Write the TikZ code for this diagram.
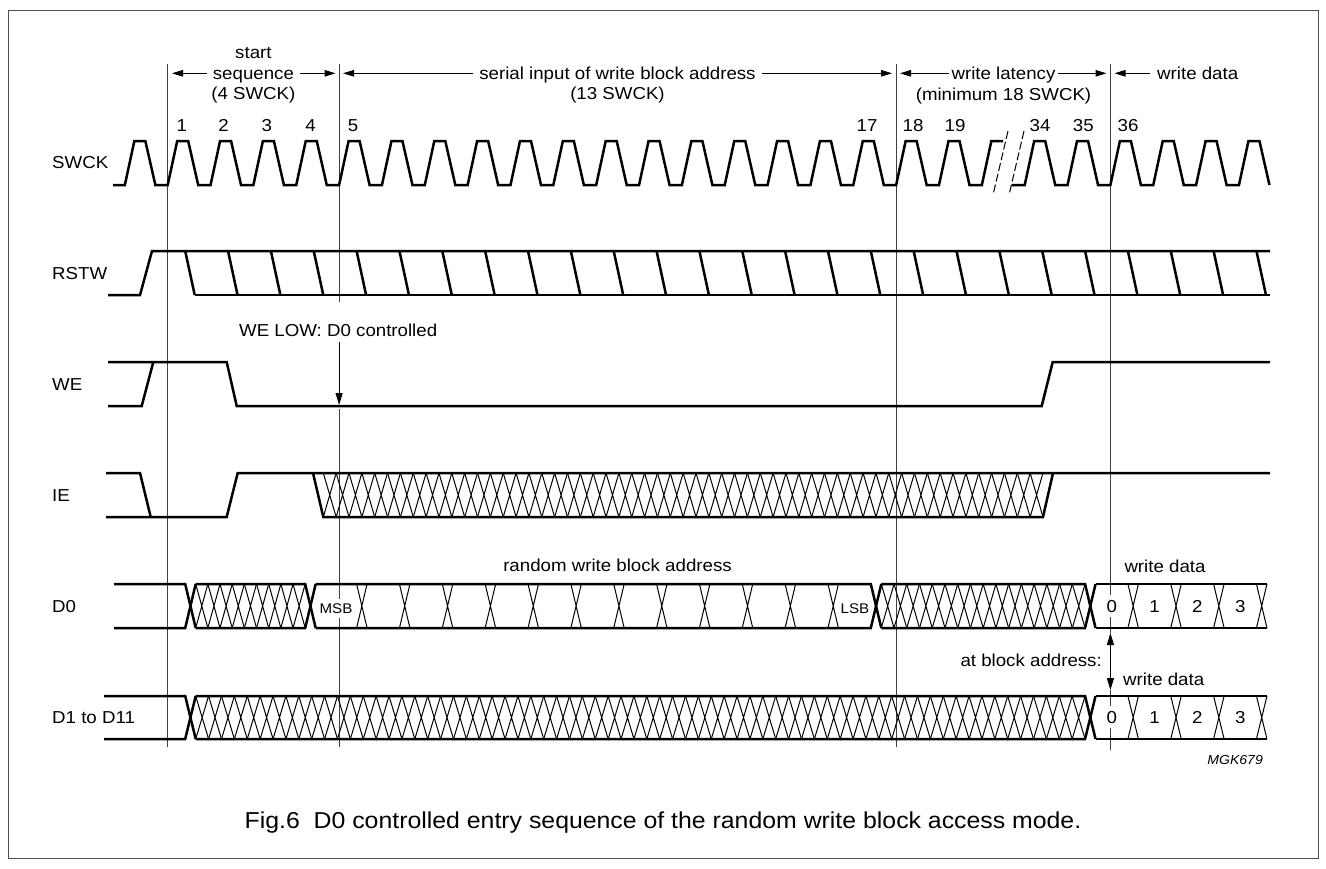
\documentclass[tikz,border=0pt]{standalone}
\usepackage{fontspec}
\setmainfont{Liberation Sans}[FakeStretch=1.08]
\usetikzlibrary{arrows.meta}
\newcommand\hatchX[4]{%
  \pgfmathsetmacro\hzA{#1}\pgfmathsetmacro\hzB{#2}%
  \pgfmathtruncatemacro\hzN{max(1,round((\hzB-\hzA)/12.85))}%
  \pgfmathsetmacro\hzW{(\hzB-\hzA)/\hzN}%
  \foreach \i in {1,...,\hzN}{\draw[hat] ({\hzA+(\i-1)*\hzW},#3) -- ({\hzA+\i*\hzW},#4) ({\hzA+(\i-1)*\hzW},#4) -- ({\hzA+\i*\hzW},#3);}}
\newcommand\busLine[4]{%
  \foreach \j [evaluate=\j as \tA using {185.2+42.85*\j}, evaluate=\j as \tB using {195.7+42.85*\j}, remember=\tB as \tP (initially #1)] in {#4} {%
    \draw[sig] (\tP,#2) -- (\tA,#2) -- (\tB,#3);
    \draw[sig] (\tP,#3) -- (\tA,#3) -- (\tB,#2);
  }}
\newcommand\thinX[3]{%
  \foreach \j in {#3} {\draw[hat] ({185.2+42.85*\j},#1) -- ({195.7+42.85*\j},#2) ({185.2+42.85*\j},#2) -- ({195.7+42.85*\j},#1);}}
\begin{document}
\begin{tikzpicture}[x=1pt,y=-1pt,
  declare function={ck(\q)=167.7+42.85*\q;},
  sig/.style={line width=2.5pt,line join=miter},
  hat/.style={line width=1pt},
  vline/.style={line width=1pt,black!75},
  tip/.tip={Triangle[length=11pt,width=6.5pt]},
  dim/.style={line width=1pt,tip-tip},
  txt/.style={font=\fontsize{17.3}{20}\selectfont,inner sep=0pt,anchor=base},
  sm/.style={font=\fontsize{14}{16}\selectfont,inner sep=0pt,anchor=base},
]
\useasboundingbox (0,0) rectangle (1326,868);
\draw[line width=1pt,black!70] (8,10) rectangle (1318,858);

% marker lines
\draw[vline] (167.7,64) -- (167.7,747);
\draw[vline] (339.1,64) -- (339.1,302);
\draw[vline] (339.1,409) -- (339.1,747);
\draw[vline] (896.15,64) -- (896.15,747);
\draw[vline] (1110.4,64) -- (1110.4,633);
\draw[vline] (1110.4,690) -- (1110.4,750);

% signal names
\node[txt,anchor=base west] (nSWCK) at (52,168) {SWCK};
\node[txt,anchor=base west] (nRSTW) at (52,279) {RSTW};
\node[txt,anchor=base west] (nWE) at (52,390) {WE};
\node[txt,anchor=base west] (nIE) at (52,501) {IE};
\node[txt,anchor=base west] (nD0) at (52,612) {D0};
\node[txt,anchor=base west] (nD1) at (52,723) {D1 to D11};

% top dimension arrows
\draw[dim] (172,73.3) -- (335.5,73.3);
\node[txt,fill=white,inner xsep=6pt,inner ysep=3pt] (tseq) at (253.4,79.3) {sequence};
\node[txt] (tstart) at (253.4,58.3) {start};
\node[txt] (t4) at (253.4,99) {(4 SWCK)};
\draw[dim] (343,73.3) -- (892,73.3);
\node[txt,fill=white,inner xsep=6pt,inner ysep=3pt] (tser) at (617.5,79.3) {serial input of write block address};
\node[txt] (t13) at (617.5,99) {(13 SWCK)};
\draw[dim] (900,73.3) -- (1106.5,73.3);
\node[txt,fill=white,inner xsep=3pt,inner ysep=3pt] (tlat) at (1003.5,79.3) {write latency};
\node[txt] (tmin) at (1003.5,100) {(minimum 18 SWCK)};
\coordinate (wdA) at (1150,73.3);
\coordinate (wdB) at (1114.5,73.3);
\draw[line width=1pt,-tip] (wdA) -- (wdB);
\node[txt,anchor=base west] (twd) at (1157,79.3) {write data};

% clock numbers
\foreach \x/\t in {181.7/1,223.5/2,266.7/3,310.5/4,353/5,867/17,913/18,955/19,1040/34,1083.3/35,1128/36}
  \node[txt] (num\t) at (\x,131.7) {\t};

% SWCK
\draw[sig] (113,185) \foreach \j in {-1,...,18}{ -- ({ck(\j)},185) -- ({ck(\j)+9.5},141) -- ({ck(\j)+20.5},141) -- ({ck(\j)+30.5},185)} -- ({ck(19)},185) -- ({ck(19)+9.5},141) -- (1003,141);
\draw[sig] (1012,185) \foreach \j in {20,...,25}{ -- ({ck(\j)},185) -- ({ck(\j)+9.5},141) -- ({ck(\j)+20.5},141) -- ({ck(\j)+30.5},185)};
\draw[line width=1pt,dash pattern=on 8pt off 3pt] (1008,131) -- (993,195) (1024,131) -- (1009,195);

% RSTW
\draw[sig] (108,295) -- (140,295) -- (152,251) -- (1270,251);
\draw[sig] ({ck(0)+27},295) -- (1270,295);
\foreach \j in {0,...,25} \draw[sig] ({ck(\j)+17.5},251) -- ({ck(\j)+27},295);

% WE
\draw[sig] (108,362) -- (226.7,362) -- (236.7,406) -- (1041.7,406) -- (1052.7,362) -- (1270,362);
\draw[sig] (108,406) -- (141.7,406) -- (153.3,362);
\node[txt,anchor=base west] (weLow) at (239,336) {WE LOW: D0 controlled};
\draw[line width=1pt,-{Triangle[length=12pt,width=7pt]}] (339.1,342) -- (339.1,405);

% IE
\draw[sig] (106,473) -- (140,473) -- (150.7,517);
\draw[sig] (106,517) -- (226.7,517) -- (237.7,473) -- (1270,473);
\draw[sig] (313,473) -- (323.3,517) -- (1043,517) -- (1053,473);
\hatchX{323.3}{1043}{473}{517}

% D0
\busLine{114}{584}{628}{0,2.8,16,21}
\draw[sig] (1095.55,584) -- (1266.95,584) (1095.55,628) -- (1266.95,628);
\thinX{584}{628}{4,5,6,7,8,9,10,11,12,13,14,15,22,23,24,25}
\hatchX{195.7}{305.18}{584}{628}
\hatchX{881.3}{1085.05}{584}{628}
\node[sm,fill=white,inner xsep=1pt,inner ysep=5pt] (msb) at (336,613.3) {MSB};
\node[sm] (lsb) at (855,613.3) {LSB};
\node[txt] (rwba) at (617.5,571) {random write block address};
\node[txt] (wd1) at (1165,572.5) {write data};
\foreach \x/\t in {1111.7/0,1154.6/1,1197.4/2,1240.3/3}
  \node[txt,fill=white,inner xsep=1pt,inner ysep=5pt] (dA\t) at (\x,612) {\t};

% D1 to D11
\busLine{104}{696}{739}{0,21}
\draw[sig] (1095.55,696) -- (1266.95,696) (1095.55,739) -- (1266.95,739);
\thinX{696}{739}{22,23,24,25}
\hatchX{195.7}{1085.05}{696}{739}
\foreach \x/\t in {1111.7/0,1154.6/1,1197.4/2,1240.3/3}
  \node[txt,fill=white,inner xsep=1pt,inner ysep=5pt] (dB\t) at (\x,723) {\t};

% block address arrow
\coordinate (baT) at (1110.4,633);
\coordinate (baB) at (1110.4,690);
\draw[line width=1pt,{Triangle[length=12pt,width=7pt]}-{Triangle[length=12pt,width=7pt]}] (baT) -- (baB);
\node[txt,anchor=base east] (tba) at (1102,666.7) {at block address:};
\node[txt,anchor=base west] (wd2) at (1123,685) {write data};

\node[sm,anchor=base east,font=\fontsize{13}{15}\selectfont\itshape] (mgk) at (1263,764) {MGK679};
\node[txt,font=\fontsize{23}{26}\selectfont] (cap) at (663,828) {Fig.6\ \ D0 controlled entry sequence of the random write block access mode.};
\end{tikzpicture}
\end{document}
